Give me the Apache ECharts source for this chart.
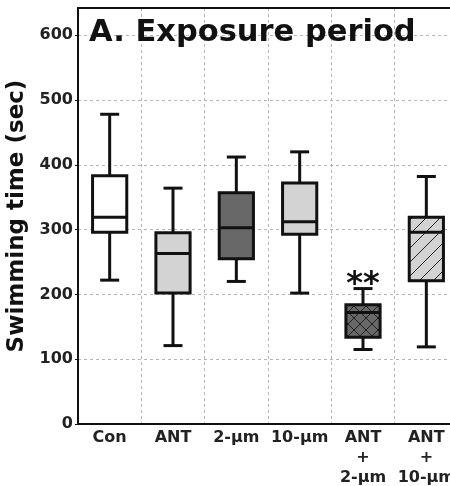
<!DOCTYPE html>
<html><head><meta charset="utf-8">
<script src="https://cdn.jsdelivr.net/npm/echarts@6/dist/echarts.min.js"></script>
<style>html,body{margin:0;padding:0;background:#fff}#c{width:450px;height:486px}</style>
</head><body><div id="c"></div>
<script>
var categories = ['Con', 'ANT', '2-µm', '10-µm', 'ANT\n+\n2-µm', 'ANT\n+\n10-µm'];
var lowWhisker = [222, 121, 220, 202, 115, 119];
var q1Values   = [296, 202, 255, 293, 134, 221];
var medians    = [319, 263, 303, 312, 172, 296];
var q3Values   = [383, 295, 357, 372, 184, 319];
var highWhisker= [478, 364, 412, 420, 209, 382];
var significance = ['', '', '', '', '**', ''];
var yTicks = [0, 100, 200, 300, 400, 500, 600];

function hatch(bg, size, cross) {
  var c = document.createElement('canvas');
  c.width = size; c.height = size;
  var g = c.getContext('2d');
  g.fillStyle = bg; g.fillRect(0, 0, size, size);
  g.strokeStyle = '#222'; g.lineWidth = 1;
  g.beginPath();
  g.moveTo(-1, size + 1); g.lineTo(size + 1, -1);
  g.moveTo(-size / 2 - 1, size / 2 + 1); g.lineTo(size / 2 + 1, -size / 2 - 1);
  g.moveTo(size / 2 - 1, size * 1.5 + 1); g.lineTo(size * 1.5 + 1, size / 2 - 1);
  if (cross) {
    g.moveTo(-1, -1); g.lineTo(size + 1, size + 1);
  }
  g.stroke();
  return c;
}
var fills = [
  '#ffffff',
  '#d3d3d3',
  '#686868',
  '#d3d3d3',
  { image: hatch('#686868', 12, true), repeat: 'repeat' },
  { image: hatch('#d3d3d3', 14, false), repeat: 'repeat' }
];

var data = categories.map(function (c, i) {
  return [i, lowWhisker[i], q1Values[i], medians[i], q3Values[i], highWhisker[i]];
});

var FONT = '"DejaVu Sans", sans-serif';
var TICKFONT = '"DejaVu Sans", sans-serif';
var GRIDLINE = { type: [3, 3], color: '#b5b5b5', width: 1 };
var chart = echarts.init(document.getElementById('c'), null, { renderer: 'canvas' });
chart.setOption({
  animation: false,
  backgroundColor: '#fff',
  title: {
    text: 'A. Exposure period',
    left: 84, top: 13,
    textStyle: { fontFamily: FONT, fontWeight: 'bold', fontSize: 30.5, color: '#111' }
  },
  grid: { left: 78, top: 8, width: 380, height: 416, containLabel: false, outerBoundsMode: 'none' },
  xAxis: [{
    type: 'category',
    data: categories,
    axisLine: { lineStyle: { color: '#111', width: 2 } },
    axisTick: { show: false },
    axisLabel: { fontFamily: TICKFONT, fontWeight: 'bold', fontSize: 16, color: '#222', lineHeight: 20, margin: 4, interval: 0, hideOverlap: false },
    splitLine: { show: true, lineStyle: GRIDLINE }
  }, {
    type: 'category',
    data: categories,
    position: 'top',
    axisLine: { show: true, lineStyle: { color: '#111', width: 2 } },
    axisTick: { show: false },
    axisLabel: { show: false },
    splitLine: { show: false }
  }],
  yAxis: {
    type: 'value',
    min: 0, max: 642, interval: 100,
    name: 'Swimming time (sec)',
    nameLocation: 'middle',
    nameGap: 29,
    nameTextStyle: { fontFamily: FONT, fontWeight: 'bold', fontSize: 23, color: '#111' },
    axisLine: { show: true, lineStyle: { color: '#111', width: 2 } },
    axisTick: { show: true, length: 3, lineStyle: { color: '#111', width: 1 } },
    axisLabel: { fontFamily: TICKFONT, fontWeight: 'bold', fontSize: 16, color: '#222', margin: 5, showMaxLabel: false,
      formatter: function (v) { return yTicks.indexOf(v) >= 0 ? String(v) : ''; } },
    splitLine: { show: true, lineStyle: GRIDLINE }
  },
  series: [{
    type: 'custom',
    data: data,
    encode: { x: 0, y: [1, 2, 3, 4, 5] },
    renderItem: function (params, api) {
      var i = api.value(0);
      var pLo = api.coord([i, api.value(1)]);
      var pQ1 = api.coord([i, api.value(2)]);
      var pMed = api.coord([i, api.value(3)]);
      var pQ3 = api.coord([i, api.value(4)]);
      var pHi = api.coord([i, api.value(5)]);
      var band = api.size([1, 0])[0];
      var bw = band * 0.54;
      var cw = band * 0.3;
      var x = pMed[0];
      var ls = { stroke: '#111', lineWidth: 3 };
      var children = [
        { type: 'line', shape: { x1: x, y1: pHi[1], x2: x, y2: pQ3[1] }, style: ls },
        { type: 'line', shape: { x1: x, y1: pQ1[1], x2: x, y2: pLo[1] }, style: ls },
        { type: 'line', shape: { x1: x - cw / 2, y1: pHi[1], x2: x + cw / 2, y2: pHi[1] }, style: ls },
        { type: 'line', shape: { x1: x - cw / 2, y1: pLo[1], x2: x + cw / 2, y2: pLo[1] }, style: ls },
        { type: 'rect', shape: { x: x - bw / 2, y: pQ3[1], width: bw, height: pQ1[1] - pQ3[1] },
          style: { fill: fills[params.dataIndex], stroke: '#111', lineWidth: 3 } },
        { type: 'line', shape: { x1: x - bw / 2, y1: pMed[1], x2: x + bw / 2, y2: pMed[1] }, style: ls }
      ];
      var sig = significance[params.dataIndex];
      if (sig) {
        children.push({ type: 'text', style: { text: sig, x: x, y: pHi[1] + 12, align: 'center', verticalAlign: 'bottom',
          font: 'bold 32px "DejaVu Sans", sans-serif', fill: '#111' } });
      }
      return { type: 'group', children: children };
    }
  }]
});
</script>
</body></html>
